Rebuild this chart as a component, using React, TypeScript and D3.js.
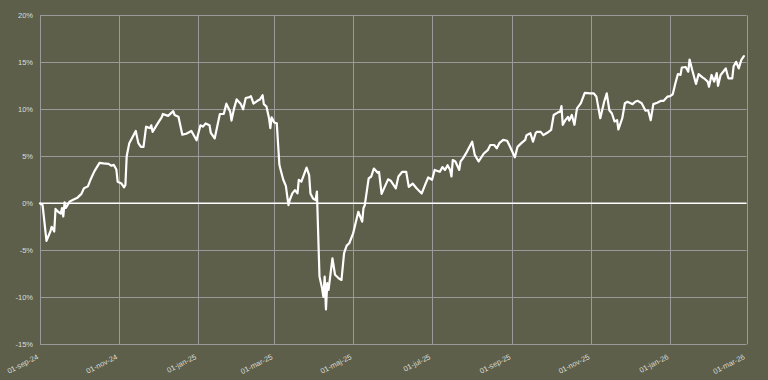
import React from "react";
import * as d3 from "d3";

const dates: string[] = [
  "2024-09-01","2024-09-03","2024-09-06","2024-09-09","2024-09-10","2024-09-12","2024-09-13","2024-09-15","2024-09-17","2024-09-18",
  "2024-09-19","2024-09-20","2024-09-21","2024-09-24","2024-09-27","2024-09-30","2024-10-03","2024-10-05","2024-10-08","2024-10-10",
  "2024-10-13","2024-10-17","2024-10-20","2024-10-24","2024-10-26","2024-10-28","2024-10-30","2024-10-31","2024-11-03","2024-11-05",
  "2024-11-06","2024-11-07","2024-11-09","2024-11-14","2024-11-16","2024-11-18","2024-11-20","2024-11-22","2024-11-25","2024-11-26",
  "2024-11-27","2024-12-01","2024-12-04","2024-12-05","2024-12-09","2024-12-13","2024-12-14","2024-12-17","2024-12-20","2024-12-23",
  "2024-12-27","2024-12-31","2025-01-03","2025-01-05","2025-01-07","2025-01-10","2025-01-11","2025-01-14","2025-01-18","2025-01-21",
  "2025-01-23","2025-01-26","2025-01-27","2025-01-29","2025-01-31","2025-02-03","2025-02-05","2025-02-07","2025-02-10","2025-02-11",
  "2025-02-13","2025-02-16","2025-02-18","2025-02-20","2025-02-21","2025-02-23","2025-02-25","2025-02-26","2025-02-27","2025-03-01",
  "2025-03-03","2025-03-05","2025-03-06","2025-03-08","2025-03-10","2025-03-12","2025-03-13","2025-03-15","2025-03-17","2025-03-19",
  "2025-03-20","2025-03-22","2025-03-26","2025-03-28","2025-03-29","2025-03-31","2025-04-02","2025-04-03","2025-04-05","2025-04-07",
  "2025-04-08","2025-04-09","2025-04-10","2025-04-11","2025-04-12","2025-04-15","2025-04-17","2025-04-20","2025-04-22","2025-04-24",
  "2025-04-26","2025-04-28","2025-05-01","2025-05-05","2025-05-08","2025-05-09","2025-05-10","2025-05-13","2025-05-15","2025-05-17",
  "2025-05-20","2025-05-21","2025-05-23","2025-05-28","2025-05-30","2025-06-03","2025-06-05","2025-06-08","2025-06-11","2025-06-13",
  "2025-06-16","2025-06-19","2025-06-23","2025-06-26","2025-06-28","2025-07-01","2025-07-03","2025-07-07","2025-07-09","2025-07-11",
  "2025-07-13","2025-07-15","2025-07-16","2025-07-17","2025-07-19","2025-07-22","2025-07-23","2025-07-25","2025-07-28","2025-08-01",
  "2025-08-03","2025-08-06","2025-08-10","2025-08-13","2025-08-15","2025-08-18","2025-08-20","2025-08-22","2025-08-25","2025-08-28",
  "2025-08-30","2025-09-03","2025-09-05","2025-09-08","2025-09-11","2025-09-12","2025-09-15","2025-09-17","2025-09-19","2025-09-20",
  "2025-09-23","2025-09-25","2025-09-28","2025-10-01","2025-10-03","2025-10-06","2025-10-08","2025-10-09","2025-10-10","2025-10-12",
  "2025-10-14","2025-10-15","2025-10-17","2025-10-19","2025-10-21","2025-10-24","2025-10-27","2025-10-31","2025-11-03","2025-11-05",
  "2025-11-08","2025-11-11","2025-11-13","2025-11-15","2025-11-17","2025-11-19","2025-11-21","2025-11-22","2025-11-25","2025-11-27",
  "2025-11-29","2025-12-03","2025-12-05","2025-12-07","2025-12-10","2025-12-13","2025-12-15","2025-12-17","2025-12-19","2025-12-22",
  "2025-12-25","2025-12-27","2025-12-30","2026-01-01","2026-01-03","2026-01-05","2026-01-07","2026-01-09","2026-01-10","2026-01-13",
  "2026-01-15","2026-01-16","2026-01-18","2026-01-21","2026-01-23","2026-01-26","2026-01-28","2026-01-30","2026-01-31","2026-02-02",
  "2026-02-04","2026-02-06","2026-02-07","2026-02-09","2026-02-11","2026-02-13","2026-02-15","2026-02-18","2026-02-19","2026-02-21",
  "2026-02-23","2026-02-25","2026-02-27"
];

const values: number[] = [
  0.0,-0.2,-4.0,-3.0,-2.5,-3.0,-0.6,-0.9,-1.1,-0.5,
  -1.4,0.1,-0.5,0.2,0.4,0.6,1.0,1.6,1.8,2.5,
  3.4,4.3,4.25,4.2,4.0,4.1,3.6,2.3,2.1,1.7,
  1.95,5.0,6.4,7.7,6.4,6.0,6.0,8.15,8.0,8.3,
  7.6,8.5,9.15,9.5,9.3,9.8,9.4,9.2,7.3,7.4,
  7.7,6.7,8.3,8.15,8.5,8.3,7.5,6.9,9.5,9.5,
  10.6,9.75,8.8,10.1,11.05,10.6,10.0,11.2,11.3,11.4,
  10.6,10.9,11.05,11.5,10.55,10.3,9.05,8.0,9.15,8.6,
  8.5,4.1,3.55,2.5,1.85,-0.2,0.35,1.05,1.4,1.05,
  2.5,2.3,3.8,3.0,1.05,0.5,0.35,1.25,-7.8,-9.05,
  -9.95,-7.8,-11.3,-8.5,-9.2,-5.85,-7.6,-8.0,-8.15,-5.3,
  -4.5,-4.25,-3.2,-0.9,-1.95,-0.5,-0.2,2.65,2.85,3.7,
  3.25,3.35,1.0,2.55,2.4,1.6,2.85,3.35,3.35,1.75,
  2.1,1.6,1.05,2.1,2.75,2.5,3.55,3.35,3.85,3.55,
  4.05,3.55,2.85,4.6,4.45,3.55,4.45,4.8,5.5,6.55,
  5.15,4.45,5.3,5.65,6.2,6.2,5.85,6.4,6.75,6.65,
  6.1,4.9,6.0,6.4,6.75,7.25,7.45,6.55,7.45,7.6,
  7.6,7.25,7.5,7.8,9.4,9.65,9.75,10.35,8.35,8.85,
  9.2,8.8,9.4,8.35,10.1,10.65,11.75,11.7,11.7,11.35,
  9.05,10.8,11.7,9.9,9.55,8.7,8.85,7.85,9.05,10.65,
  10.8,10.55,10.8,10.9,10.65,9.85,9.9,8.85,10.55,10.7,
  10.9,10.9,11.35,11.4,11.6,12.75,13.75,13.65,14.45,14.5,
  14.0,15.3,14.2,12.7,13.75,13.4,13.2,12.95,12.4,13.65,
  12.95,13.85,12.5,13.65,14.0,14.35,13.3,13.3,14.55,15.05,
  14.35,15.25,15.65
];

const yTicks: number[] = [-15, -10, -5, 0, 5, 10, 15, 20];
const xTickDates: string[] = [
  "2024-09-01","2024-11-01","2025-01-01","2025-03-01","2025-05-01",
  "2025-07-01","2025-09-01","2025-11-01","2026-01-01","2026-03-01"
];
const xTickLabels: string[] = [
  "01-sep-24","01-nov-24","01-jan-25","01-mar-25","01-maj-25",
  "01-jul-25","01-sep-25","01-nov-25","01-jan-26","01-mar-26"
];

const W = 768, H = 380;
const BG = "#5d5f4b";
const GRID = "#9a9a9a";
const TEXT = "#dcdcd4";
const FONT = "'Liberation Sans', Arial, sans-serif";

export default function App() {
  const parse = d3.utcParse("%Y-%m-%d");
  const x = d3.scaleUtc()
    .domain([parse("2024-09-01") as Date, parse("2026-03-01") as Date])
    .range([40, 746.5]);
  const y = d3.scaleLinear().domain([-15, 20]).range([344.3, 15.3]);

  const pts: [Date, number][] = dates.map((d, i) => [parse(d) as Date, values[i]]);
  const line = d3.line<[Date, number]>()
    .x((p) => x(p[0]))
    .y((p) => y(p[1]));

  return (
    <div style={{ position: "fixed", left: 0, top: 0, width: W, height: H }}>
      <svg width={W} height={H} style={{ display: "block" }}>
        <rect x={0} y={0} width={W} height={H} fill={BG} />
        {yTicks.map((t) => (
          <line key={"gy" + t} x1={40} x2={746.5} y1={Math.round(y(t)) + 0.5} y2={Math.round(y(t)) + 0.5}
            stroke={GRID} strokeWidth={1} />
        ))}
        {xTickDates.map((d) => {
          const px = Math.round(x(parse(d) as Date)) + 0.5;
          return <line key={"gx" + d} x1={px} x2={px} y1={y(20)} y2={y(-15)} stroke={GRID} strokeWidth={1} />;
        })}
        <line x1={40} x2={746.5} y1={y(0)} y2={y(0)} stroke="#ffffff" strokeWidth={1.5} />
        <path d={line(pts) || ""} fill="none" stroke="#ffffff" strokeWidth={2.2} strokeLinejoin="round" strokeLinecap="round" />
        {yTicks.map((t) => (
          <text key={"ly" + t} x={33} y={y(t)} dy="0.35em" textAnchor="end" fill={TEXT}
            fontFamily={FONT} fontSize={7.5}>{t + "%"}</text>
        ))}
        {xTickDates.map((d, i) => {
          const px = x(parse(d) as Date);
          return (
            <text key={"lx" + d} transform={`translate(${px - 1},358.5) rotate(-27)`} textAnchor="end"
              fill={TEXT} fontFamily={FONT} fontSize={7.5}>{xTickLabels[i]}</text>
          );
        })}
      </svg>
    </div>
  );
}
